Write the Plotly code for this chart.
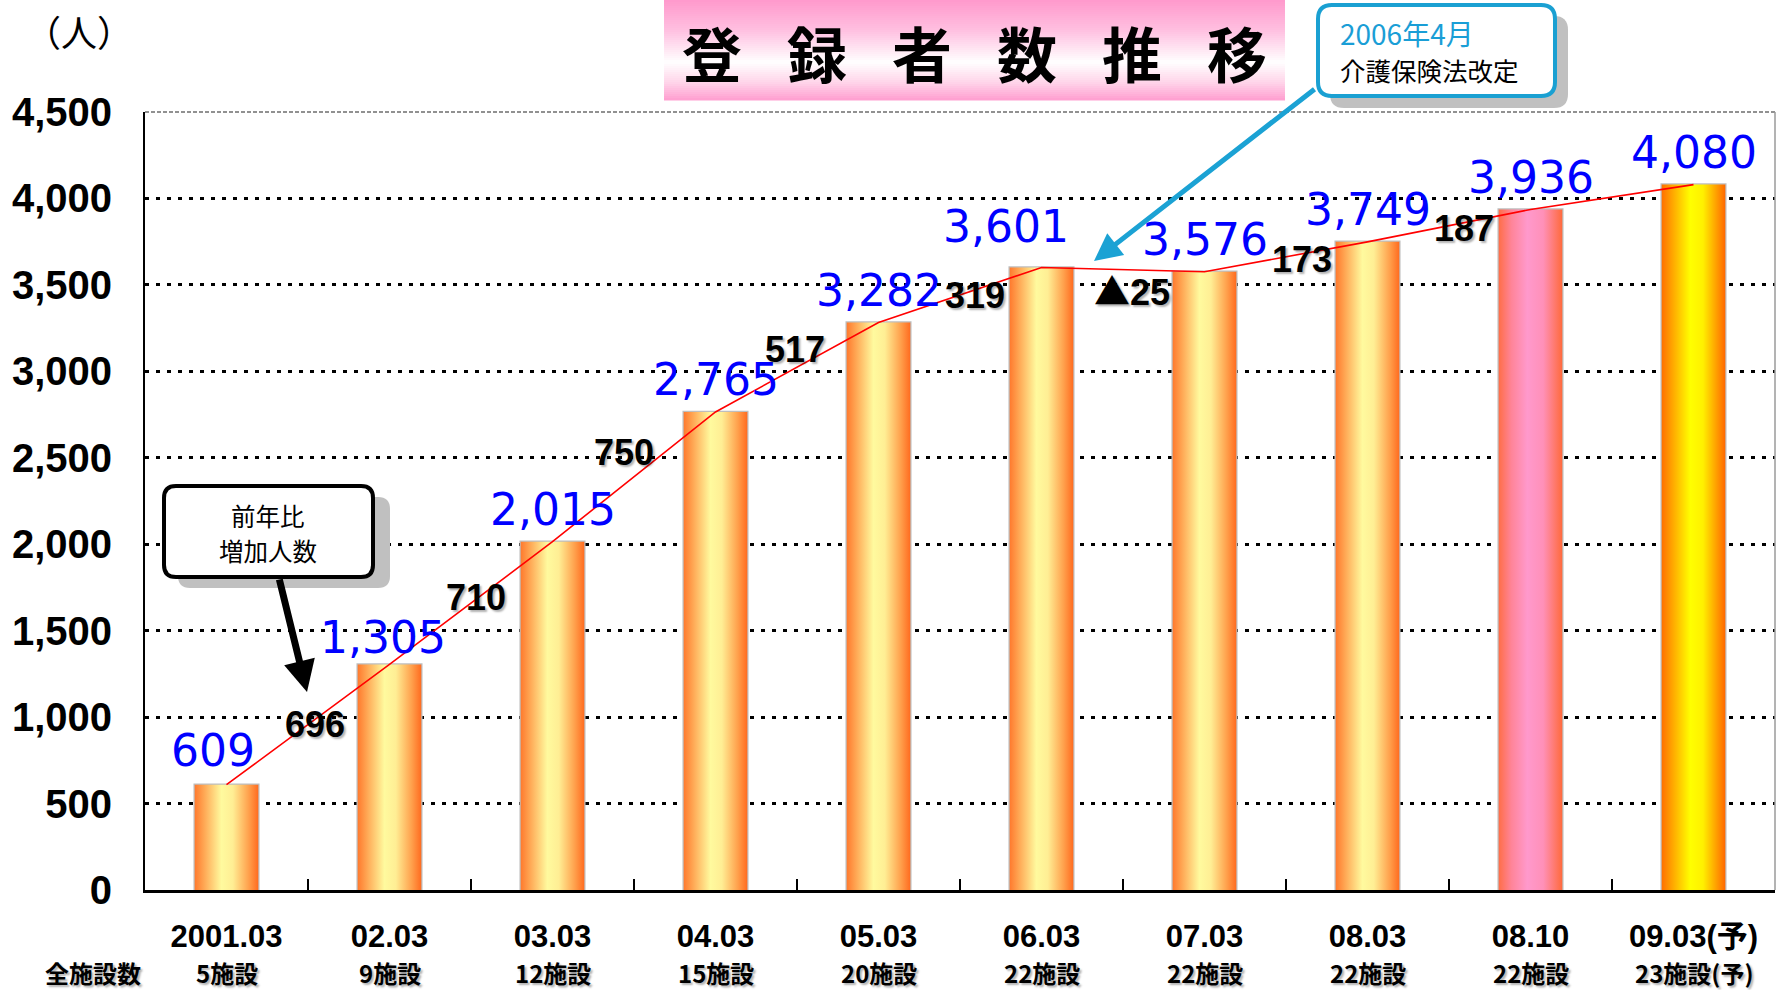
import plotly.graph_objects as go

# ---------------- data ----------------
periods = ["2001.03", "02.03", "03.03", "04.03", "05.03", "06.03",
           "07.03", "08.03", "08.10", "09.03(予)"]
facilities = ["5施設", "9施設", "12施設", "15施設", "20施設", "22施設",
              "22施設", "22施設", "22施設", "23施設(予)"]
registrants = [609, 1305, 2015, 2765, 3282, 3601, 3576, 3749, 3936, 4080]
yoy_increase = [696, 710, 750, 517, 319, -25, 173, 187]
y_tick_values = [0, 500, 1000, 1500, 2000, 2500, 3000, 3500, 4000, 4500]
title_text = "登\u2002\u2005録\u2002\u2005者\u2002\u2005数\u2002\u2005推\u2002\u2005移"
facility_row_label = "全施設数"
unit_label = "（人）"
note_lines = ["2006年4月", "介護保険法改定"]
increase_box_lines = ["前年比", "増加人数"]

# ---------------- layout / style ----------------
W, H = 1777, 990
ML, MR, MT, MB = 145, 2, 112, 100
PW = W - ML - MR
PH = H - MT - MB
BAR_W = 0.39

SANS = "Liberation Sans, Arial, Noto Sans CJK JP, sans-serif"
JP = "Noto Sans CJK JP, Noto Sans, sans-serif"
ROUND = "DejaVu Sans, Verdana, sans-serif"

SCALES = {
    "sun": [[0, "#FF7A2E"], [0.14, "#FFA552"], [0.42, "#FFFA9E"],
            [0.6, "#FFEE94"], [0.85, "#FFA04C"], [1, "#FF6C20"]],
    "pink": [[0, "#FF6E48"], [0.2, "#FF8498"], [0.45, "#FF99CC"],
             [0.7, "#FF90B8"], [1, "#FF6A3C"]],
    "yellow": [[0, "#FF7000"], [0.2, "#FFB000"], [0.45, "#FFFF00"],
               [0.65, "#FFF000"], [1, "#FF6800"]],
}


def bar_scale(i):
    if i == len(registrants) - 1:
        return "yellow"
    if i == len(registrants) - 2:
        return "pink"
    return "sun"


def px(x, y):
    """pixel position on the page -> paper coordinates"""
    return (x - ML) / PW, (H - MB - y) / PH


def rounded_path(x0, y0, x1, y1, r):
    pts = [
        ("M", [(x0 + r, y0)]), ("L", [(x1 - r, y0)]), ("Q", [(x1, y0), (x1, y0 + r)]),
        ("L", [(x1, y1 - r)]), ("Q", [(x1, y1), (x1 - r, y1)]),
        ("L", [(x0 + r, y1)]), ("Q", [(x0, y1), (x0, y1 - r)]),
        ("L", [(x0, y0 + r)]), ("Q", [(x0, y0), (x0 + r, y0)]),
    ]
    out = []
    for cmd, ps in pts:
        coords = " ".join("%.5f,%.5f" % px(a, b) for a, b in ps)
        out.append(cmd + coords)
    return " ".join(out) + " Z"


def hex_to_rgb(h):
    h = h.lstrip("#")
    return tuple(int(h[k:k + 2], 16) for k in (0, 2, 4))


def interp(stops, t):
    for (t0, c0), (t1, c1) in zip(stops[:-1], stops[1:]):
        if t0 <= t <= t1:
            f = 0 if t1 == t0 else (t - t0) / (t1 - t0)
            a, b = hex_to_rgb(c0), hex_to_rgb(c1)
            return "rgb(%d,%d,%d)" % tuple(round(a[k] + (b[k] - a[k]) * f) for k in range(3))
    return stops[-1][1]


def paper_text(x, y, text, font, xanchor="center"):
    X, Y = px(x, y)
    return dict(x=X, y=Y, xref="paper", yref="paper", text=text, showarrow=False,
                xanchor=xanchor, yanchor="middle", font=font)


fig = go.Figure()
xs = list(range(len(registrants)))

# base bars (outline) through the library's bar trace
fig.add_trace(go.Bar(
    x=xs, y=registrants, width=BAR_W,
    marker=dict(color="#FFB060", line=dict(color="#BEBEBE", width=2.5)),
    hoverinfo="skip", showlegend=False,
))

# gradient face of each bar
for i, v in enumerate(registrants):
    x0, x1 = i - BAR_W / 2, i + BAR_W / 2
    fig.add_trace(go.Scatter(
        x=[x0, x1, x1, x0, x0], y=[0, 0, v, v, 0],
        mode="lines", fill="toself", line=dict(width=0),
        fillgradient=dict(type="horizontal", colorscale=SCALES[bar_scale(i)],
                          start=x0, stop=x1),
        hoverinfo="skip", showlegend=False,
    ))

# red trend line
fig.add_trace(go.Scatter(
    x=xs, y=registrants, mode="lines",
    line=dict(color="#FF0000", width=1.6),
    hoverinfo="skip", showlegend=False,
))

annotations = []

# blue value labels
value_shift = {0: (-14, 34), 1: (-7, 27), 5: (-36, 41)}
for i, v in enumerate(registrants):
    dx, dy = value_shift.get(i, (0, 32))
    annotations.append(dict(
        x=i, y=v, xref="x", yref="y", text=f"{v:,}", showarrow=False,
        xshift=dx, yshift=dy, xanchor="center", yanchor="middle",
        font=dict(family=ROUND, size=44, color="#0000FF"),
    ))

# year-on-year increase labels (placed at the midpoint of the trend line)
inc_shift = {0: (7, 0), 1: (5, 6), 2: (-10, 24), 3: (-2, 18), 4: (15, 0),
             5: (9, -19), 6: (16, -3), 7: (15, -3)}
for i, d in enumerate(yoy_increase):
    mid = (registrants[i] + registrants[i + 1]) / 2
    dx, dy = inc_shift[i]
    if d >= 0:
        txt = f"{d}"
    else:
        txt = f'<span style="font-family:Noto Sans CJK JP">▲</span>{abs(d)}'
    annotations.append(dict(
        x=i + 0.5, y=mid, xref="x", yref="y", text=txt, showarrow=False,
        xshift=dx, yshift=dy, xanchor="center", yanchor="middle",
        font=dict(family=SANS, size=36, color="#000000", weight="bold",
                  shadow="2px 2px 2px rgba(0,0,0,0.3)"),
    ))

# facility count row
row2_font = dict(family=JP, size=24, color="#000000", weight="bold",
                 shadow="2px 2px 2px rgba(0,0,0,0.3)")
for i, f in enumerate(facilities):
    annotations.append(dict(
        x=i, y=px(0, 972)[1], xref="x", yref="paper", text=f, showarrow=False,
        xanchor="center", yanchor="middle", font=row2_font,
    ))
annotations.append(paper_text(93, 972, facility_row_label, row2_font))

# unit label
annotations.append(paper_text(79, 31, unit_label, dict(family=JP, size=36, color="#000000")))

# title
annotations.append(paper_text(975, 52, title_text,
                              dict(family=JP, size=60, color="#000000", weight="bold")))

# note callout text
annotations.append(paper_text(1338, 33, note_lines[0],
                              dict(family=JP, size=28, color="#1A9ED6"), xanchor="left"))
annotations.append(paper_text(1338, 69, note_lines[1],
                              dict(family=JP, size=25.5, color="#000000"), xanchor="left"))

# increase callout text
annotations.append(paper_text(268, 515, increase_box_lines[0],
                              dict(family=JP, size=24.5, color="#000000")))
annotations.append(paper_text(268, 550, increase_box_lines[1],
                              dict(family=JP, size=24.5, color="#000000")))

# arrows
tipx, tipy = px(1094, 261)
annotations.append(dict(
    x=tipx, y=tipy, xref="paper", yref="paper", text="", showarrow=True,
    ax=1316 - 1094, ay=88 - 261, arrowhead=2, arrowsize=1.1, arrowwidth=5,
    arrowcolor="#1BA2D4", standoff=0,
))
tipx, tipy = px(307, 692)
annotations.append(dict(
    x=tipx, y=tipy, xref="paper", yref="paper", text="", showarrow=True,
    ax=279 - 307, ay=578 - 692, arrowhead=2, arrowsize=0.9, arrowwidth=7,
    arrowcolor="#000000", standoff=0,
))

shapes = []

# title box gradient
title_stops = [[0, "#FF99CC"], [0.3, "#FFBFE0"], [0.62, "#FFFFFF"],
               [0.82, "#FFD6EA"], [1, "#FF9ED0"]]
N = 50
for k in range(N):
    y0 = 100 * k / N
    y1 = 100 * (k + 1) / N + 0.6
    c = interp(title_stops, (k + 0.5) / N)
    X0, Y0 = px(664, y0)
    X1, Y1 = px(1285, y1)
    shapes.append(dict(type="rect", xref="paper", yref="paper", x0=X0, x1=X1,
                       y0=Y1, y1=Y0, fillcolor=c, line=dict(width=0), layer="above"))

# note callout (shadow + box)
shapes.append(dict(type="path", xref="paper", yref="paper",
                   path=rounded_path(1330, 16, 1568, 108, 14),
                   fillcolor="#C0C0C0", line=dict(width=0), layer="above"))
shapes.append(dict(type="path", xref="paper", yref="paper",
                   path=rounded_path(1318, 5, 1555, 96, 14),
                   fillcolor="#FFFFFF", line=dict(color="#1AA0D2", width=4), layer="above"))

# increase callout (shadow + box)
shapes.append(dict(type="path", xref="paper", yref="paper",
                   path=rounded_path(178, 497, 390, 588, 12),
                   fillcolor="#C0C0C0", line=dict(width=0), layer="above"))
shapes.append(dict(type="path", xref="paper", yref="paper",
                   path=rounded_path(164, 486, 373, 577, 12),
                   fillcolor="#FFFFFF", line=dict(color="#000000", width=4), layer="above"))

# plot frame: top dashed line and right border
shapes.append(dict(type="line", xref="paper", yref="paper", x0=0, x1=1, y0=1, y1=1,
                   line=dict(color="#FFFFFF", width=4), layer="above"))
shapes.append(dict(type="line", xref="paper", yref="paper", x0=0, x1=1, y0=1, y1=1,
                   line=dict(color="#6E6E6E", width=1.5, dash="4px,2px"), layer="above"))
shapes.append(dict(type="line", xref="paper", yref="paper", x0=1, x1=1, y0=0, y1=1,
                   line=dict(color="#9A9A9A", width=1.5), layer="above"))

fig.update_layout(
    template="none",
    width=W, height=H,
    margin=dict(l=ML, r=MR, t=MT, b=MB, pad=0),
    paper_bgcolor="#FFFFFF", plot_bgcolor="#FFFFFF",
    showlegend=False,
    annotations=annotations,
    shapes=shapes,
    xaxis=dict(
        range=[-0.5, len(registrants) - 0.5],
        automargin=False,
        tickmode="array", tickvals=xs, ticktext=periods,
        ticks="", showgrid=False, zeroline=False,
        showline=True, linecolor="#000000", linewidth=3,
        tickfont=dict(family=SANS, size=31, color="#000000", weight="bold"),
        ticklabelstandoff=17,
        minor=dict(tickmode="array", tickvals=[i + 0.5 for i in range(len(registrants) - 1)],
                   ticks="inside", ticklen=11, tickwidth=1.5, tickcolor="#000000",
                   showgrid=False),
        fixedrange=True,
    ),
    yaxis=dict(
        range=[0, 4500],
        automargin=False,
        tickmode="array", tickvals=y_tick_values,
        tickformat=",d", ticks="",
        showgrid=True, gridcolor="#000000", gridwidth=2.5, griddash="4px,7px",
        zeroline=False,
        showline=True, linecolor="#000000", linewidth=2,
        tickfont=dict(family=SANS, size=40, color="#000000", weight="bold"),
        ticklabelstandoff=23,
        fixedrange=True,
    ),
)

fig.write_html("out.html", config={"displayModeBar": False},
               post_script="document.body.style.margin='0px';")
